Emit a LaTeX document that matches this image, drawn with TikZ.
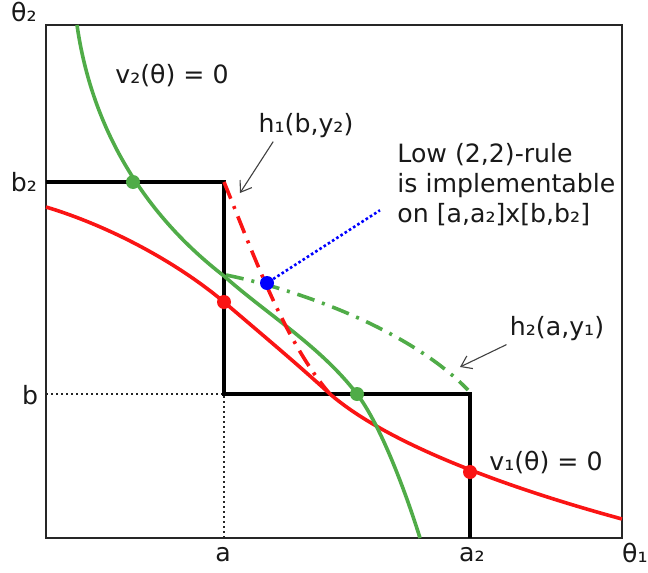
\documentclass[tikz,border=0pt]{standalone}
\usepackage{fontspec}
\setmainfont{DejaVu Sans}
\usetikzlibrary{arrows.meta, positioning, calc}
\definecolor{vgreen}{RGB}{80,172,72}
\definecolor{vred}{RGB}{250,20,20}
\definecolor{ink}{RGB}{25,25,25}
\tikzset{
    frame/.style={draw=black!85, line width=1.2pt},
    stair/.style={draw=black, line width=1.6pt},
    guide/.style={draw=black!85, line width=1.2pt, dash pattern=on 1.2pt off 1.3pt},
    vone/.style={draw=vred, line width=1.8pt},
    vtwo/.style={draw=vgreen, line width=1.8pt},
    hcurve/.style={line width=1.8pt, dash pattern=on 9pt off 4pt on 1.5pt off 4pt},
    pt/.style={circle, inner sep=0pt, minimum size=7pt},
    lbl/.style={font=\fontsize{12.6}{15}\selectfont, text=ink, inner sep=0pt},
    pointer/.style={-{Straight Barb[length=5pt, width=7pt]}, draw=black!75, line width=0.55pt},
    link/.style={draw=blue, line width=1.3pt, dash pattern=on 1.3pt off 1.2pt}
}
\begin{document}
\begin{tikzpicture}[x=0.5pt, y=-0.5pt]
    \useasboundingbox (0,0) rectangle (648,573);

    % box and axes
    \draw[frame] (46,25) rectangle (622,538);
    \coordinate (o) at (224,394);
    \draw[guide] (46,394) -- (o) -- (224,538);

    % the two steps
    \draw[stair] (46,182) -- (224,182) -- (o) -- (470,394) -- (470,538);

    % zero sets
    \draw[vone] (46,207) .. controls (106,225) and (174,260) .. (224,302)
        .. controls (259,332) and (295,362) .. (330,394)
        .. controls (395,450) and (530,494) .. (622,519);
    \draw[vtwo] (77,25) .. controls (92,130) and (145,215) .. (224,276)
        .. controls (268,315) and (320,346) .. (357,394)
        .. controls (380,424) and (405,490) .. (420,538);

    % h curves
    \draw[hcurve, draw=vred] (224,182) .. controls (250,245) and (283,340) .. (330,394);
    \draw[hcurve, draw=vgreen] (226,275) .. controls (300,290) and (410,330) .. (468,390);

    % points
    \node[pt, fill=vgreen] (g1) at (133,182) {};
    \node[pt, fill=vgreen] (g2) at (357,394) {};
    \node[pt, fill=vred] (r1) at (224,302) {};
    \node[pt, fill=vred] (r2) at (470,472) {};
    \node[pt, fill=blue] (bl) at (267,283) {};

    % axis labels
    \node[lbl] (t2) at (24,12) {θ₂};
    \node[lbl] (t1) at (635,553) {θ₁};
    \node[lbl] (lb2) at (24,182) {b₂};
    \node[lbl] (lb) at (30,395) {b};
    \node[lbl] (la) at (223,555) {a};
    \node[lbl] (la2) at (472,555) {a₂};

    % curve labels
    \node[lbl] (v2) at (172,75) {v₂(θ) = 0};
    \node[lbl] (v1) at (546,462) {v₁(θ) = 0};
    \node[lbl] (h1) at (306,126) {h₁(b,y₂)};
    \node[lbl] (h2) at (557,329) {h₂(a,y₁)};
    \node[lbl, anchor=north west, align=left] (rule) at (397,143) {Low (2,2)-rule\\is implementable\\on [a,a₂]x[b,b₂]};

    \coordinate (h1tip) at (240,193);
    \coordinate (h2tip) at (460,367);
    \draw[pointer] ($(h1.south west)+(15,3)$) -- (h1tip);
    \draw[pointer] ($(h2.south west)+(-3,3)$) -- (h2tip);
    \draw[link] (bl) -- ($(rule.south west)+(-17,-16)$);
\end{tikzpicture}
\end{document}
